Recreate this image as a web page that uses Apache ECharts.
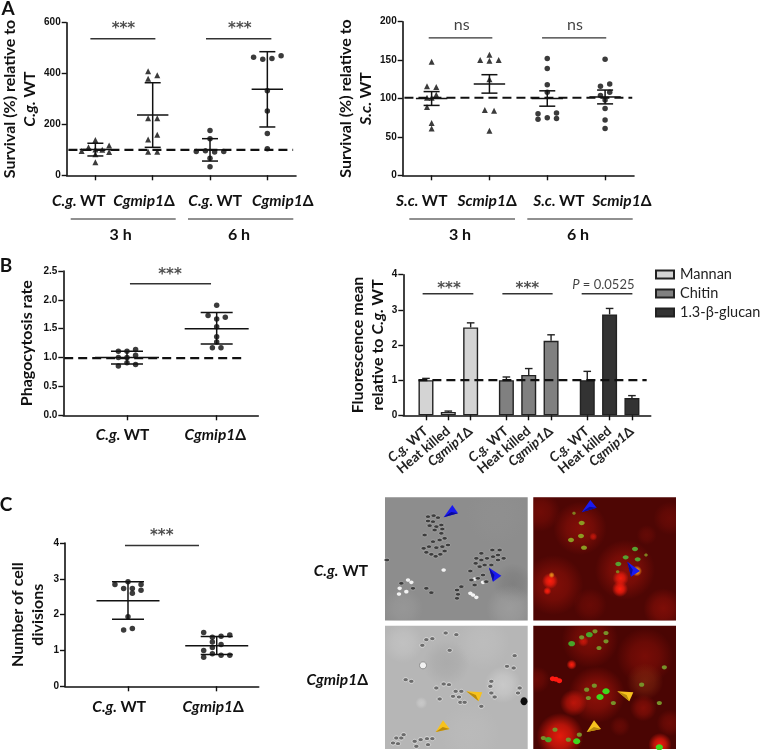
<!DOCTYPE html>
<html>
<head>
<meta charset="utf-8">
<style>
  html, body { margin: 0; padding: 0; background: #fff; }
  #chart { width: 760px; height: 750px; }
</style>
<script src="https://cdn.jsdelivr.net/npm/echarts@6/dist/echarts.min.js"></script>
</head>
<body>
<div id="chart"></div>
<script>
// --- data ---
// "slots" are the beeswarm column of each point, same order as the values
const cgWt3hValues = [139, 110, 117, 96, 100, 101, 92, 83, 51];
const cgWt3hSlots = [0, -1.5, 3, -3, 1.5, 0, 3, 0, 0];
const cgMip3hValues = [409, 393, 380, 224, 224, 141, 159, 93, 93];
const cgMip3hSlots = [-1, 1, -1, -1, 1, -1, 1, -1, 1];
const cgWt6hValues = [176, 144, 94, 97, 92, 94, 67, 34];
const cgWt6hSlots = [0, 0, -3, -1, 1, 3, 0, 0];
const cgMip6hValues = [464, 456, 459, 470, 332, 253, 164, 104];
const cgMip6hSlots = [-3, -1, 1, 3, 0, 0, 0, 0];
// mean, low, high
const cgSurvivalSummary = [[101, 76, 126], [237, 110, 364], [100, 56, 144], [338, 190, 486]];

const scWt3hValues = [148, 116, 115, 101, 101, 105, 89, 68, 61];
const scWt3hSlots = [0, -1, 1, 0, -1, 1, -1, 0, 0];
const scMip3hValues = [157, 150, 149, 150, 125, 85, 84, 58];
const scMip3hSlots = [0, -2, 0, 2, 0, -1, 1, 0];
const scWt6hValues = [152, 139, 118, 108, 80, 81, 73, 75, 74];
const scWt6hSlots = [0, 0, 0, 0, -2, 2, -2, 0, 2];
const scMip6hValues = [151, 116, 119, 108, 104, 98, 87, 72, 61];
const scMip6hSlots = [0, -1, 1, 1, -1, 0, 0, 0, 0];
const scSurvivalSummary = [[100, 91, 109], [119, 107, 131], [100, 90, 110], [102, 93, 111]];

const phagoWtValues = [1.11, 1.11, 1.14, 1.0, 1.0, 1.04, 0.855, 0.91, 0.88];
const phagoWtSlots = [-2, 0, 2, -2, 0, 2, -2, 0, 2];
const phagoMipValues = [1.905, 1.73, 1.70, 1.67, 1.535, 1.36, 1.27, 1.17, 1.17];
const phagoMipSlots = [0, -2, 2, 0, 0, 0, 0, -1, 1];
const phagoSummary = [[1.0, 0.89, 1.11], [1.5, 1.235, 1.78]];

const barNames = ['Mannan', 'Chitin', '1.3-β-glucan'];
const barLabels = ['{ri|C.g.} {r|WT}', '{r|Heat killed}', '{ri|Cgmip1}{r|Δ}'];
const mannanMeans = [1.0, 0.095, 2.5];
const mannanErrors = [1.05, 0.12, 2.63];
const chitinMeans = [1.0, 1.15, 2.12];
const chitinErrors = [1.09, 1.33, 2.29];
const glucanMeans = [1.0, 2.87, 0.49];
const glucanErrors = [1.25, 3.04, 0.56];
const barSlots = [[0, 1, 2], [3.6, 4.6, 5.6], [7.22, 8.22, 9.22]];

const divWtValues = [2.84, 2.73, 2.73, 2.84, 2.92, 2.60, 2.68, 1.94, 1.57, 1.61];
const divWtSlots = [-3, -1, 1, 3, 0, 1, 3, 0, -1, 1];
const divMipValues = [1.50, 1.43, 1.40, 1.37, 1.24, 1.17, 1.08, 1.0, 0.91, 0.87, 0.87, 0.81];
const divMipSlots = [-3, 3, 1, -1, -1, 1, -1, -3, -1, 1, 3, -3];
const divSummary = [[2.39, 1.87, 2.92], [1.135, 0.89, 1.39]];

const cgLabels = ['{i|C.g.} {b|WT}', '{i|Cgmip1}{b|Δ}'];
const scLabels = ['{i|S.c.} {b|WT}', '{i|Scmip1}{b|Δ}'];

// --- styles ---
const LATO = 'Lato, "Open Sans", sans-serif';
const INK = '#111';
const labelRich = {
  i: { fontFamily: LATO, fontSize: 15.5, fontWeight: 'bold', fontStyle: 'italic', color: INK },
  b: { fontFamily: LATO, fontSize: 15.5, fontWeight: 'bold', color: INK },
  r: { fontFamily: LATO, fontSize: 13.5, fontWeight: 'bold', color: '#222' },
  ri: { fontFamily: LATO, fontSize: 13.5, fontWeight: 'bold', fontStyle: 'italic', color: '#222' }
};
const nameRich = {
  i: { fontFamily: LATO, fontSize: 16, fontWeight: 'bold', fontStyle: 'italic', color: INK, lineHeight: 20 },
  b: { fontFamily: LATO, fontSize: 16, fontWeight: 'bold', color: INK, lineHeight: 20 }
};

const grids = [], xAxes = [], yAxes = [], series = [];

function addPanel(p) {
  const idx = grids.length;
  grids.push({ left: p.box[0], top: p.box[1], width: p.box[2], height: p.box[3] });
  xAxes.push({
    gridIndex: idx, type: 'value', min: p.xRange[0], max: p.xRange[1],
    splitLine: { show: false },
    axisLine: { onZero: false, lineStyle: { color: INK, width: 1.6 } },
    axisTick: { customValues: p.ticks, length: 5, lineStyle: { color: INK, width: 1.4 } },
    axisLabel: {
      customValues: p.labelAt, margin: p.labelMargin || 18, rotate: p.labelRotate || 0,
      hideOverlap: false, rich: labelRich,
      formatter: v => p.labels[p.labelAt.indexOf(v)]
    }
  });
  yAxes.push({
    gridIndex: idx, type: 'value', min: 0, max: p.yMax, interval: p.yStep,
    splitLine: { show: false },
    axisLine: { onZero: false, show: true, lineStyle: { color: INK, width: 1.6 } },
    axisTick: { show: true, length: 5, lineStyle: { color: INK, width: 1.4 } },
    axisLabel: {
      margin: 6, fontFamily: '"Liberation Sans", Arial, sans-serif', fontSize: 10, fontWeight: 'bold', color: INK,
      formatter: p.yFormat || (v => String(v))
    },
    name: p.yName, nameLocation: 'middle', nameGap: p.nameGap, nameRotate: 90,
    nameTextStyle: { rich: nameRich }
  });
  return idx;
}

function addSwarm(idx, centre, slotSize, values, slots, symbol) {
  series.push({
    type: 'scatter', xAxisIndex: idx, yAxisIndex: idx, symbol: symbol, symbolSize: symbol === 'triangle' ? 6 : 5.5,
    itemStyle: { color: '#0a0a0a' }, z: 3, clip: false,
    data: values.map((v, i) => [centre + slots[i] * slotSize, v])
  });
}

// mean line with sd whiskers, half widths in pixels
function addSummary(idx, rows, meanHalf, capHalf) {
  series.push({
    type: 'custom', xAxisIndex: idx, yAxisIndex: idx, z: 4, clip: false,
    data: rows.map((r, i) => [i, r[0], r[1], r[2]]),
    encode: { x: 0, y: [1, 2, 3] },
    renderItem: (params, api) => {
      const m = api.coord([api.value(0), api.value(1)]);
      const lo = api.coord([api.value(0), api.value(2)]);
      const hi = api.coord([api.value(0), api.value(3)]);
      const st = { stroke: '#111', lineWidth: 1.5, fill: null };
      return { type: 'group', children: [
        { type: 'line', shape: { x1: m[0], y1: lo[1], x2: m[0], y2: hi[1] }, style: st },
        { type: 'line', shape: { x1: m[0] - capHalf, y1: lo[1], x2: m[0] + capHalf, y2: lo[1] }, style: st },
        { type: 'line', shape: { x1: m[0] - capHalf, y1: hi[1], x2: m[0] + capHalf, y2: hi[1] }, style: st },
        { type: 'line', shape: { x1: m[0] - meanHalf, y1: m[1], x2: m[0] + meanHalf, y2: m[1] }, style: st }
      ] };
    }
  });
}

function addDashed(idx, y, x0, x1) {
  series.push({
    type: 'line', xAxisIndex: idx, yAxisIndex: idx, symbol: 'none', z: 5, silent: true,
    lineStyle: { color: '#111', width: 2.2, type: [9, 5] },
    data: [[x0, y], [x1, y]]
  });
}

function addSig(idx, x0, x1, y, labelX, labelY, text, labelStyle) {
  series.push({
    type: 'line', xAxisIndex: idx, yAxisIndex: idx, symbol: 'none', z: 2, silent: true,
    lineStyle: { color: '#333', width: 1.4 },
    data: [[x0, y], [x1, y]]
  });
  series.push({
    type: 'scatter', xAxisIndex: idx, yAxisIndex: idx, symbolSize: 0, clip: false, silent: true, z: 6,
    data: [[labelX, labelY]],
    label: Object.assign({
      show: true, position: 'inside', formatter: text, color: '#222',
      fontFamily: 'DejaVu Sans', fontSize: 15, fontWeight: 'bold'
    }, labelStyle || {})
  });
}

const nsStyle = { fontFamily: LATO, fontSize: 16, fontWeight: 'normal', color: '#111' };

// A, C. glabrata survival
let a = addPanel({
  box: [66.7, 22.7, 229.3, 152.6], xRange: [-0.5, 3.5], yMax: 600, yStep: 200,
  ticks: [0, 1, 2, 3], labelAt: [-0.29, 0.85, 2.09, 3.27], labels: [...cgLabels, ...cgLabels],
  yName: '{b|Survival (%) relative to}\n{i|C.g.} {b|WT}', nameGap: 27
});
addSwarm(a, 0, 0.08, cgWt3hValues, cgWt3hSlots, 'triangle');
addSwarm(a, 1, 0.08, cgMip3hValues, cgMip3hSlots, 'triangle');
addSwarm(a, 2, 0.08, cgWt6hValues, cgWt6hSlots, 'circle');
addSwarm(a, 3, 0.08, cgMip6hValues, cgMip6hSlots, 'circle');
addSummary(a, cgSurvivalSummary, 15.7, 8);
addDashed(a, 100, -0.47, 3.45);
addSig(a, -0.087, 1.047, 537, 0.49, 574, '***');
addSig(a, 1.93, 3.07, 537, 2.52, 574, '***');

// A, S. cerevisiae survival
let b = addPanel({
  box: [402.7, 21.7, 231.3, 153.6], xRange: [-0.5, 3.5], yMax: 200, yStep: 50,
  ticks: [0, 1, 2, 3], labelAt: [-0.17, 0.96, 2.2, 3.29], labels: [...scLabels, ...scLabels],
  yName: '{b|Survival (%) relative to}\n{i|S.c.} {b|WT}', nameGap: 27
});
addSwarm(b, 0, 0.08, scWt3hValues, scWt3hSlots, 'triangle');
addSwarm(b, 1, 0.08, scMip3hValues, scMip3hSlots, 'triangle');
addSwarm(b, 2, 0.08, scWt6hValues, scWt6hSlots, 'circle');
addSwarm(b, 3, 0.08, scMip6hValues, scMip6hSlots, 'circle');
addSummary(b, scSurvivalSummary, 15.7, 8);
addDashed(b, 101, -0.47, 3.47);
addSig(b, -0.05, 1.05, 179, 0.52, 196, 'ns', nsStyle);
addSig(b, 1.91, 3.02, 179, 2.48, 196, 'ns', nsStyle);

// B, phagocytosis
let c = addPanel({
  box: [63.3, 271, 195, 144.3], xRange: [-0.71, 1.464], yMax: 2.5, yStep: 0.5,
  ticks: [0, 1], labelAt: [-0.05, 0.985], labels: cgLabels, labelMargin: 12,
  yName: '{b|Phagocytosis rate}', nameGap: 26, yFormat: v => v.toFixed(1)
});
addSwarm(c, 0, 0.048, phagoWtValues, phagoWtSlots, 'circle');
addSwarm(c, 1, 0.048, phagoMipValues, phagoMipSlots, 'circle');
addSummary(c, phagoSummary, 32, 16);
addDashed(c, 0.99, -0.7, 1.316);
addSig(c, 0.033, 0.937, 2.28, 0.48, 2.43, '***');

// B, fluorescence bars
const barColors = ['#d4d4d4', '#808080', '#333333'];
let d = addPanel({
  box: [403.3, 274.7, 247.4, 140.6], xRange: [-1.015, 10.06], yMax: 4, yStep: 1,
  ticks: barSlots.flat(), labelAt: barSlots.flat(),
  labels: [...barLabels, ...barLabels, ...barLabels], labelRotate: 40, labelMargin: 14,
  yName: '{b|Fluorescence mean}\n{b|relative to }{i|C.g.} {b|WT}', nameGap: 15
});
[mannanMeans, chitinMeans, glucanMeans].forEach((means, k) => {
  const errs = [mannanErrors, chitinErrors, glucanErrors][k];
  series.push({
    name: barNames[k], type: 'bar', xAxisIndex: d, yAxisIndex: d, barWidth: 15, barGap: '-100%', z: 2,
    itemStyle: { color: barColors[k], borderColor: '#222', borderWidth: 1.4 },
    data: means.map((v, i) => [barSlots[k][i], v])
  });
  series.push({
    type: 'custom', xAxisIndex: d, yAxisIndex: d, z: 3, clip: false,
    data: means.map((v, i) => [barSlots[k][i], v, errs[i]]),
    encode: { x: 0, y: [1, 2] },
    renderItem: (params, api) => {
      const m = api.coord([api.value(0), api.value(1)]);
      const hi = api.coord([api.value(0), api.value(2)]);
      const st = { stroke: '#222', lineWidth: 1.4, fill: null };
      return { type: 'group', children: [
        { type: 'line', shape: { x1: m[0], y1: m[1], x2: m[0], y2: hi[1] }, style: st },
        { type: 'line', shape: { x1: m[0] - 3.8, y1: hi[1], x2: m[0] + 3.8, y2: hi[1] }, style: st }
      ] };
    }
  });
});
addDashed(d, 1, -0.34, 9.88);
addSig(d, -0.15, 2.12, 3.46, 1.03, 3.6, '***');
addSig(d, 3.42, 5.67, 3.46, 4.54, 3.6, '***');
addSig(d, 6.97, 9.24, 3.46, 7.94, 3.7, '{p|P} = 0.0525', {
  fontFamily: LATO, fontSize: 13, fontWeight: 'normal', color: '#111',
  rich: { p: { fontFamily: LATO, fontSize: 13, fontStyle: 'italic', color: '#111' } }
});

// C, cell divisions
let e = addPanel({
  box: [65, 543, 193.7, 143.3], xRange: [-0.71, 1.473], yMax: 4, yStep: 1,
  ticks: [0, 1], labelAt: [-0.1, 0.96], labels: cgLabels, labelMargin: 13,
  yName: '{b|Number of cell}\n{b|divisions}', nameGap: 17
});
addSwarm(e, 0, 0.049, divWtValues, divWtSlots, 'circle');
addSwarm(e, 1, 0.049, divMipValues, divMipSlots, 'circle');
addSummary(e, divSummary, 31.5, 16);
addSig(e, -0.034, 0.80, 3.93, 0.38, 4.2, '***');

// --- page furniture: panel letters, group brackets, micrographs ---
const graphic = [];
function text(x, y, str, font, extra) {
  graphic.push({ type: 'text', x, y, z: 10, style: Object.assign({
    text: str, font, fill: INK, align: 'center', verticalAlign: 'middle'
  }, extra || {}) });
}
function rule(x1, x2, y) {
  graphic.push({ type: 'line', z: 10, shape: { x1, y1: y, x2, y2: y }, style: { stroke: '#222', lineWidth: 1.2 } });
}
const LETTER = 'bold 19px ' + LATO, GROUP = 'bold 16px ' + LATO;
text(8, 9, 'A', LETTER);
text(6, 266, 'B', LETTER);
text(6, 505, 'C', LETTER);
rule(70.7, 175.7, 219); rule(188, 293.3, 219);
rule(409.3, 515, 219); rule(527.3, 632.7, 219);
text(120.7, 235, '3 h', GROUP); text(239, 235, '6 h', GROUP);
text(460, 235, '3 h', GROUP); text(578, 235, '6 h', GROUP);
text(368, 571, '{i|C.g.} {b|WT}', GROUP, { align: 'right', rich: labelRich });
text(368, 680, '{i|Cgmip1}{b|Δ}', GROUP, { align: 'right', rich: labelRich });

// micrograph sketches, coordinates are in a 3x crop space set per photo
let ox = 0, oy = 0;
const px = zx => ox + zx / 3, py = zy => oy + zy / 3;
function photo(x, y, w, h, base, originX, originY) {
  ox = originX; oy = originY;
  graphic.push({ type: 'rect', z: 1, shape: { x, y, width: w, height: h }, style: { fill: base } });
  return { x, y, width: w, height: h };
}
function glow(box, zx, zy, r, rgb, alpha) {
  graphic.push({ type: 'rect', z: 1, shape: box, style: { fill: {
    type: 'radial', x: (px(zx) - box.x) / box.width, y: (py(zy) - box.y) / box.height, r: r / 3 / box.height,
    colorStops: [
      { offset: 0, color: `rgba(${rgb},${alpha})` },
      { offset: 0.5, color: `rgba(${rgb},${alpha * 0.7})` },
      { offset: 1, color: `rgba(${rgb},0)` }
    ]
  } } });
}
function cells(list, rx, ry, fill, stroke) {
  list.forEach(p => graphic.push({ type: 'ellipse', z: 2, shape: { cx: px(p[0]), cy: py(p[1]), rx, ry }, style: { fill, stroke: stroke || null, lineWidth: 0.7 } }));
}
function arrow(a1, a2, a3, dark, light) {
  const pts = [a1, a2, a3].map(p => [px(p[0]), py(p[1])]);
  graphic.push({ type: 'polygon', z: 3, shape: { points: pts }, style: { fill: light } });
  const mid = [(pts[0][0] + pts[1][0] + pts[2][0]) / 3, (pts[0][1] + pts[1][1] + pts[2][1]) / 3];
  graphic.push({ type: 'polygon', z: 3, shape: { points: [pts[0], mid, pts[2]] }, style: { fill: dark } });
}
const BLUE = ['#0b0b9a', '#1a1af0'], GOLD = ['#b98a0c', '#f7c21e'];
const RED = '165,20,10', BRIGHT = '255,30,14';

// top left, bright field
let box = photo(385, 497.3, 142.7, 123.3, '#8d8d8d', 383, 495);
glow(box, 390, 265, 60, '115,115,115', 0.5);
glow(box, 380, 340, 70, '170,170,170', 0.5);
glow(box, 60, 340, 60, '165,165,165', 0.4);
glow(box, 340, 60, 90, '150,150,150', 0.25);
cells([[75, 255], [50, 280], [70, 290], [48, 297], [85, 262], [182, 225], [262, 295], [280, 307], [270, 300], [300, 262], [275, 252]], 2.2, 1.8, '#f2f2f2');
cells([[152, 62], [165, 68], [135, 78], [150, 80], [175, 90], [160, 95], [140, 92], [155, 105], [178, 102], [135, 65],
  [122, 160], [138, 155], [130, 172], [145, 178], [158, 184], [172, 178], [185, 168], [160, 158], [178, 155], [195, 150],
  [150, 140], [170, 135], [185, 130], [125, 120], [175, 115],
  [280, 190], [295, 175], [328, 165], [350, 165], [362, 190], [345, 195], [330, 185], [312, 190], [295, 195], [278, 205],
  [305, 210], [325, 210], [345, 180], [290, 215], [262, 228], [265, 255], [285, 250], [300, 240], [275, 270], [310, 260],
  [235, 275], [222, 285], [225, 298], [222, 310], [130, 280], [145, 293], [12, 195], [55, 265], [90, 280]], 2.6, 1.8, '#3d3d3d', '#b8b8b8');
arrow([182, 67], [208, 30], [225, 55], BLUE[0], BLUE[1]);
arrow([318, 218], [355, 242], [330, 260], BLUE[0], BLUE[1]);

// bottom left, bright field
box = photo(385, 625.7, 142.7, 123.3, '#b6b6b6', 383, 623);
glow(box, 190, 120, 70, '160,160,160', 0.5);
glow(box, 60, 60, 60, '200,200,200', 0.6);
glow(box, 300, 60, 80, '195,195,195', 0.5);
glow(box, 360, 185, 55, '205,205,205', 0.8);
glow(box, 115, 240, 18, '205,205,205', 0.8);
glow(box, 260, 330, 90, '190,190,190', 0.5);
cells([[118, 67], [130, 50], [148, 47], [188, 30], [200, 82], [220, 35], [68, 170], [85, 175], [395, 98], [372, 130],
  [392, 135], [325, 175], [322, 190], [325, 210], [335, 222], [405, 210], [410, 195], [198, 185], [182, 183], [160, 195],
  [170, 228], [218, 205], [235, 205], [210, 220], [228, 222], [232, 238], [245, 238], [295, 250], [40, 345], [55, 345],
  [30, 360], [45, 362], [62, 335], [95, 355], [113, 350], [132, 347], [148, 347], [135, 365], [100, 370]], 2.6, 2, '#6c6c6c', '#efefef');
cells([[120, 127]], 3.5, 3.5, '#f2f2f2', '#777');
cells([[423, 235]], 3.5, 4, '#0c0c0c');
arrow([250, 205], [298, 208], [287, 235], GOLD[0], GOLD[1]);
arrow([158, 327], [180, 292], [200, 318], GOLD[0], GOLD[1]);

// top right, fluorescence
box = photo(533.3, 497.3, 142.7, 123.3, '#4e0604', 530, 495);
glow(box, 150, 100, 80, RED, 0.6);
glow(box, 285, 225, 90, RED, 0.65);
glow(box, 70, 270, 90, RED, 0.6);
glow(box, 30, 50, 60, RED, 0.4);
glow(box, 400, 340, 60, RED, 0.55);
glow(box, 420, 70, 50, RED, 0.3);
glow(box, 180, 330, 50, RED, 0.3);
glow(box, 350, 120, 30, RED, 0.25);
glow(box, 190, 125, 12, BRIGHT, 0.6);
glow(box, 60, 258, 24, BRIGHT, 1);
glow(box, 52, 288, 12, BRIGHT, 1);
glow(box, 270, 282, 24, BRIGHT, 1);
glow(box, 272, 250, 24, BRIGHT, 0.9);
glow(box, 320, 228, 16, '255,170,30', 1);
glow(box, 65, 240, 9, '240,160,30', 0.9);
cells([[155, 84], [123, 135], [153, 123], [162, 158]], 3, 2.2, '#8c9a22');
cells([[132, 55], [263, 230], [348, 180]], 1.8, 1.5, '#7f7f1f');
cells([[287, 187], [315, 162], [323, 193], [265, 207]], 3, 2.2, '#57a030');
arrow([155, 52], [181, 15], [200, 38], BLUE[0], BLUE[1]);
arrow([292, 200], [330, 228], [303, 245], BLUE[0], BLUE[1]);

// bottom right, fluorescence
box = photo(533.3, 625.7, 142.7, 123.3, '#4a0503', 530, 623);
glow(box, 180, 50, 85, RED, 0.55);
glow(box, 200, 215, 85, RED, 0.75);
glow(box, 345, 100, 85, RED, 0.5);
glow(box, 345, 175, 55, '130,40,15', 0.7);
glow(box, 340, 255, 40, RED, 0.6);
glow(box, 90, 340, 70, BRIGHT, 0.85);
glow(box, 130, 240, 40, BRIGHT, 0.6);
glow(box, 390, 365, 35, BRIGHT, 0.9);
glow(box, 420, 300, 40, RED, 0.4);
glow(box, 270, 310, 30, RED, 0.3);
glow(box, 20, 170, 40, RED, 0.35);
glow(box, 125, 125, 15, BRIGHT, 1);
glow(box, 160, 55, 16, BRIGHT, 0.6);
cells([[68, 167], [78, 169], [88, 173]], 2.8, 2.5, '#ff1a12');
cells([[125, 62], [178, 35], [55, 350]], 3.4, 2.6, '#48a52a');
cells([[155, 43], [195, 25], [228, 30], [228, 55], [207, 75], [193, 188], [170, 200], [175, 225], [250, 240], [403, 133], [335, 185], [388, 240], [115, 350], [75, 320], [40, 345], [148, 335]], 2.6, 2.1, '#77912a');
cells([[210, 222], [228, 205], [140, 355], [388, 373]], 3.6, 3, '#3ed81c');
arrow([262, 205], [310, 208], [298, 235], GOLD[0], GOLD[1]);
arrow([170, 327], [192, 292], [213, 318], GOLD[0], GOLD[1]);

const chart = echarts.init(document.getElementById('chart'));
chart.setOption({
  animation: false,
  backgroundColor: '#fff',
  legend: {
    data: barNames, orient: 'vertical', left: 655, top: 267, itemWidth: 18, itemHeight: 8, itemGap: 4, padding: 0,
    icon: 'rect', selectedMode: false,
    textStyle: { fontFamily: LATO, fontSize: 14.5, color: '#222', padding: [0, 0, 0, 1] }
  },
  grid: grids,
  xAxis: xAxes,
  yAxis: yAxes,
  series: series,
  graphic: graphic
});
</script>
</body>
</html>
